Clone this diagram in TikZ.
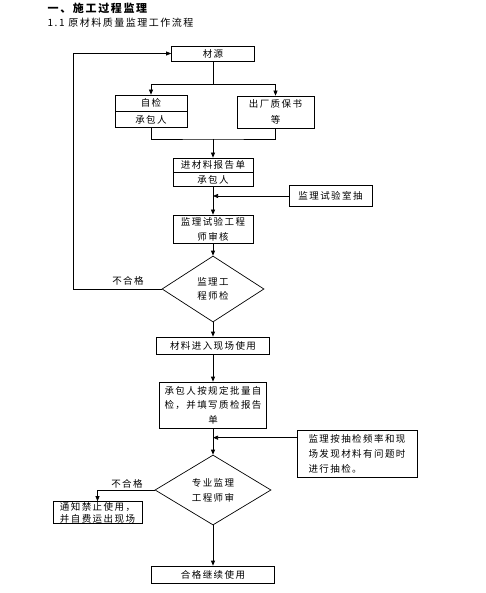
\documentclass[tikz,border=0pt]{standalone}
\usepackage{fontspec}
\usepackage{tikz}
\usetikzlibrary{positioning,shapes.geometric,arrows.meta,calc}
\newfontfamily\cjk{Noto Sans CJK SC}[LetterSpace=15]

\begin{document}
\begin{tikzpicture}[x=1pt,y=-1pt,line width=.7pt,
    every node/.style={font=\cjk\fontsize{9.5}{16}\selectfont},
    txt/.style={font=\cjk\fontsize{9.5}{#1}\selectfont},
    box/.style={draw,inner sep=0pt,align=center},
    dia/.style={draw,diamond,inner sep=0pt,align=center},
    arr/.style={-{Triangle[length=5pt,width=4pt]}}]
    \useasboundingbox (0,0) rectangle (486,593);
    % headings
    \node[anchor=west,font=\cjk\bfseries\fontsize{11}{12}\selectfont] (title) at (44,8) {一、施工过程监理};
    \node[anchor=west,font=\cjk\fontsize{10}{12}\selectfont] (sub) at (44,23) {1.1 原材料质量监理工作流程};
    % boxes
    \node[box,minimum width=83pt,minimum height=15pt] (cy) at (213,53.5) {材源};
    \node[box,minimum width=72pt,minimum height=16pt] (zj) at (151,103) {自检};
    \node[box,minimum width=72pt,minimum height=16pt,below=0pt of zj] (cbr1) {承包人};
    \node[box,minimum width=77pt,minimum height=32pt,txt=16] (cc) at (275.5,112) {出厂质保书\\等};
    \node[box,minimum width=80pt,minimum height=14pt] (bg) at (213,165) {进材料报告单};
    \node[box,minimum width=80pt,minimum height=14pt,below=0pt of bg] (cbr2) {承包人};
    \node[box,minimum width=83pt,minimum height=21pt] (sy) at (330.5,196) {监理试验室抽};
    \node[box,minimum width=80pt,minimum height=28pt,txt=15] (sh) at (213,229) {监理试验工程\\师审核};
    \node[dia,minimum width=102pt,minimum height=66pt,txt=14] (d1) at (213,289) {监理工\\程师检};
    \node[box,minimum width=113pt,minimum height=17pt] (jr) at (213,345.5) {材料进入现场使用};
    \node[box,minimum width=107pt,minimum height=46pt,txt=14.5] (zj2) at (213,405) {承包人按规定批量自\\检，并填写质检报告\\单};
    \node[box,minimum width=120pt,minimum height=47pt,txt=15,align=left] (cj) at (357,453.5) {监理按抽检频率和现\\场发现材料有问题时\\进行抽检。};
    \node[dia,minimum width=116pt,minimum height=70pt,txt=15] (d2) at (213,490) {专业监理\\工程师审};
    \node[box,minimum width=89pt,minimum height=22pt,txt=12,align=left] (tz) at (97.5,512.5) {通知禁止使用，\\并自费运出现场};
    \node[box,minimum width=123pt,minimum height=17pt] (hg) at (213,574.5) {合格继续使用};
    \node (bhg1) at (128,281) {不合格};
    \node (bhg2) at (127,484) {不合格};
    % connectors
    \coordinate (fork) at (213,84);
    \coordinate (merge) at (213,139);
    \coordinate (back) at (73,289);
    \coordinate (cjin) at ($(cj.north west)+(0,8)$);
    \draw (cy.south) -- (fork);
    \draw[arr] (fork) -| (zj.north); \draw[arr] (fork) -| (cc.north);
    \draw (cbr1.south) |- (merge) -| (cc.south);
    \draw[arr] (merge) -- (bg.north);
    \draw[arr] (cbr2.south) -- (sh.north);
    \draw[arr] (sy.west) -- (sy.west -| cbr2.south);
    \draw[arr] (sh.south) -- (d1.north);
    \draw[arr] (d1.west) -- (back) |- (cy.west);
    \draw[arr] (d1.south) -- (jr.north);
    \draw[arr] (jr.south) -- (zj2.north);
    \draw[arr] (cjin) -- (cjin -| zj2.south);
    \draw[arr] (zj2.south) -- (d2.north);
    \draw[arr] (d2.west) -| (tz.north);
    \draw[arr] (d2.south) -- (hg.north);
\end{tikzpicture}
\end{document}
